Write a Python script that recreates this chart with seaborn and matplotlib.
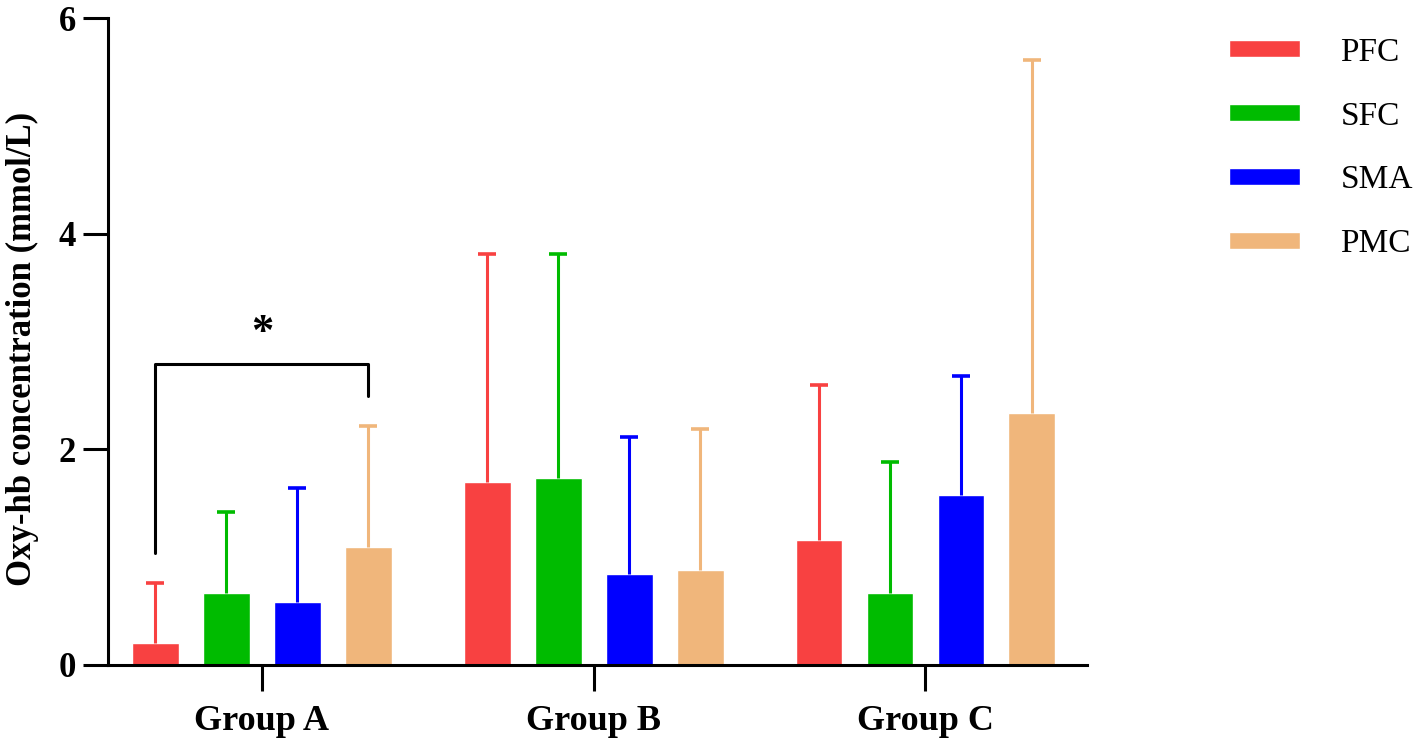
import numpy as np
import pandas as pd
import seaborn as sns
import matplotlib.pyplot as plt

groups = ['Group A', 'Group B', 'Group C']
regions = ['PFC', 'SFC', 'SMA', 'PMC']
pfc = [0.20, 1.70, 1.16]
sfc = [0.67, 1.73, 0.67]
sma = [0.58, 0.84, 1.58]
pmc = [1.09, 0.88, 2.34]
pfc_sd = [0.56, 2.11, 1.44]
sfc_sd = [0.75, 2.08, 1.21]
sma_sd = [1.06, 1.27, 1.10]
pmc_sd = [1.13, 1.31, 3.27]
colors = ['#F84141', '#00BB00', '#0000FF', '#F0B67B']

means = {'PFC': pfc, 'SFC': sfc, 'SMA': sma, 'PMC': pmc}
sds = {'PFC': pfc_sd, 'SFC': sfc_sd, 'SMA': sma_sd, 'PMC': pmc_sd}
rows = []
for r in regions:
    for g, v in zip(groups, means[r]):
        rows.append({'group': g, 'region': r, 'value': v})
df = pd.DataFrame(rows)

sns.set_style('ticks')
plt.rcParams['font.family'] = ['Liberation Serif', 'DejaVu Serif']
plt.rcParams['text.color'] = 'black'
plt.rcParams['axes.labelcolor'] = 'black'
plt.rcParams['xtick.color'] = 'black'
plt.rcParams['ytick.color'] = 'black'
plt.rcParams['axes.edgecolor'] = 'black'

fig = plt.figure(figsize=(14.18, 7.45), dpi=100)
ax = fig.add_axes([0.0762, 0.1074, 0.6906, 0.8684])

sns.barplot(data=df, x='group', y='value', hue='region', order=groups,
            hue_order=regions, palette=colors, width=0.856, gap=0.34,
            saturation=1, errorbar=None, ax=ax, legend=True)

# one-sided error bars on top of each bar
for cont, r, c in zip(ax.containers, regions, colors):
    xs = [b.get_x() + b.get_width() / 2 for b in cont]
    hs = [b.get_height() for b in cont]
    err = np.array(sds[r])
    eb = ax.errorbar(xs, hs, yerr=[np.zeros_like(err), err], fmt='none',
                     ecolor=c, elinewidth=2.2, capsize=6.5, capthick=2.6, zorder=1)
    eb[1][0].set_visible(False)  # no cap at the bar top

# significance bracket between PFC and PMC in Group A
x1 = ax.containers[0][0].get_x() + ax.containers[0][0].get_width() / 2
x2 = ax.containers[3][0].get_x() + ax.containers[3][0].get_width() / 2
y_left, y_top, y_right = 1.04, 2.79, 2.49
ax.plot([x1, x1, x2, x2], [y_left, y_top, y_top, y_right], color='black', lw=2.2)
ax.text((x1 + x2) / 2, 3.08, '*', ha='center', va='center', fontsize=32,
        fontweight='bold')

ax.set_ylim(0, 6)
ax.set_xlim(-0.464, 2.488)
ax.set_yticks([0, 2, 4, 6])
ax.set_xlabel('')
ax.set_ylabel('Oxy-hb concentration (mmol/L)', fontsize=25, fontweight='bold',
              labelpad=14)
ax.yaxis.label.set_y(0.488)
sns.despine(ax=ax)
for s in ['left', 'bottom']:
    ax.spines[s].set_linewidth(2.2)
ax.tick_params(axis='y', length=18, width=2.2, pad=5, labelsize=25)
ax.tick_params(axis='x', length=19, width=2.2, pad=10, labelsize=26)
for lab in ax.get_xticklabels() + ax.get_yticklabels():
    lab.set_fontweight('bold')

handles, labels = ax.get_legend_handles_labels()
ax.legend(handles, labels, loc='upper left', bbox_to_anchor=(0.867, 0.950),
          bbox_transform=fig.transFigure, frameon=False, fontsize=24,
          handlelength=2.13, handleheight=0.42, handletextpad=1.2,
          labelspacing=1.0, borderpad=0, borderaxespad=0)

fig.savefig('out.png', dpi=100)
